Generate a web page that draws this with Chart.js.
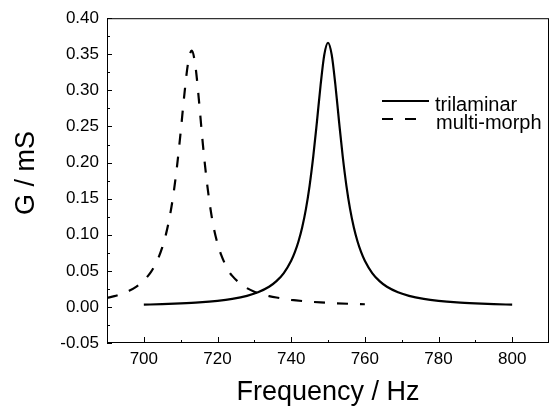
<!DOCTYPE html>
<html>
<head>
<meta charset="utf-8">
<script src="https://cdn.jsdelivr.net/npm/chart.js@4.4.1/dist/chart.umd.min.js"></script>
<style>
  body { margin: 0; background: #fff; }
  canvas { display: block; }
</style>
</head>
<body>
<canvas id="chart" width="551" height="410"></canvas>
<script>
// values
const freqTri = [700, 705, 710, 715, 720, 724, 728, 731, 734, 736, 738,
  740, 741, 742, 743, 744, 745, 746, 747, 748, 749, 750, 751, 752, 753, 754,
  755, 756, 757, 758, 759, 760, 762, 764, 766, 769, 772, 776, 780, 785, 790, 795, 800];
const gTri = [0.0031, 0.0038, 0.0048, 0.0062, 0.0084, 0.0111, 0.0153, 0.0203, 0.0279, 0.0357, 0.0469,
  0.0639, 0.0758, 0.0910, 0.1104, 0.1355, 0.1678, 0.2084, 0.2568, 0.3078, 0.3495, 0.366, 0.3495, 0.3078, 0.2568, 0.2084,
  0.1678, 0.1355, 0.1104, 0.0910, 0.0758, 0.0639, 0.0469, 0.0357, 0.0279, 0.0203, 0.0153, 0.0111, 0.0084, 0.0062, 0.0048, 0.0038, 0.0031];

const freqMulti = [690, 692, 694, 696, 698, 700, 702, 703, 704, 705, 706, 707, 708, 709, 710,
  711, 712, 713, 714, 715, 716, 717, 718, 719, 720, 721, 722, 723, 724,
  726, 728, 730, 732, 734, 736, 740, 744, 748, 752, 756, 760];
const gMulti = [0.0125, 0.0149, 0.0181, 0.0223, 0.0281, 0.0365, 0.0490, 0.0576, 0.0685, 0.0824, 0.1005, 0.1241, 0.1549, 0.1944, 0.2423,
  0.2942, 0.3376, 0.355, 0.334, 0.284, 0.227, 0.178, 0.139, 0.109, 0.088, 0.072, 0.060, 0.050, 0.043,
  0.033, 0.026, 0.021, 0.0175, 0.015, 0.013, 0.0098, 0.0077, 0.0062, 0.0051, 0.0043, 0.0037];

const seriesNames = ["trilaminar", "multi-morph"];

const xTicks = [700, 720, 740, 760, 780, 800];
const xMinorTicks = [710, 730, 750, 770, 790];
const yTicks = [-0.05, 0, 0.05, 0.10, 0.15, 0.20, 0.25, 0.30, 0.35, 0.40];
const yMinorTicks = [-0.025, 0.025, 0.075, 0.125, 0.175, 0.225, 0.275, 0.325, 0.375];

const FONT = "'Liberation Sans', Arial, sans-serif";

function toPoints(xs, ys) {
  return xs.map((v, i) => ({ x: v, y: ys[i] }));
}

// box frame, inward tick marks and the in-plot legend
const framePlugin = {
  id: "frame",
  afterDraw(chart) {
    const { ctx, chartArea: a, scales } = chart;
    const sx = scales.x, sy = scales.y;
    ctx.save();
    ctx.strokeStyle = "#000";
    ctx.lineWidth = 1;
    ctx.setLineDash([]);
    ctx.strokeRect(a.left + 0.5, a.top + 0.5, a.right - a.left - 1, a.bottom - a.top - 1);

    ctx.beginPath();
    xTicks.forEach(v => {
      const p = Math.round(sx.getPixelForValue(v)) + 0.5;
      ctx.moveTo(p, a.bottom); ctx.lineTo(p, a.bottom - 6);
    });
    xMinorTicks.forEach(v => {
      const p = Math.round(sx.getPixelForValue(v)) + 0.5;
      ctx.moveTo(p, a.bottom); ctx.lineTo(p, a.bottom - 3);
    });
    yTicks.forEach(v => {
      const p = Math.round(sy.getPixelForValue(v)) + 0.5;
      ctx.moveTo(a.left, p); ctx.lineTo(a.left + 5, p);
    });
    yMinorTicks.forEach(v => {
      const p = Math.round(sy.getPixelForValue(v)) + 0.5;
      ctx.moveTo(a.left, p); ctx.lineTo(a.left + 3, p);
    });
    ctx.stroke();

    // legend
    ctx.font = "20px " + FONT;
    ctx.fillStyle = "#000";
    ctx.textBaseline = "alphabetic";
    chart.data.datasets.forEach((ds, i) => {
      const ly = 101 + i * 18;
      const dash = ds.borderDash || [];
      ctx.beginPath();
      ctx.lineWidth = ds.borderWidth;
      ctx.setLineDash(dash);
      ctx.moveTo(382, ly);
      ctx.lineTo(dash.length ? 418 : 429, ly);
      ctx.stroke();
      ctx.fillText(ds.label, i === 0 ? 435 : 436, ly + 9.5);
    });
    ctx.restore();
  }
};

new Chart(document.getElementById("chart"), {
  type: "scatter",
  data: {
    datasets: [
      {
        label: seriesNames[0],
        data: toPoints(freqTri, gTri),
        showLine: true,
        borderColor: "#000",
        borderWidth: 2.2,
        pointRadius: 0,
        cubicInterpolationMode: "monotone"
      },
      {
        label: seriesNames[1],
        data: toPoints(freqMulti, gMulti),
        showLine: true,
        borderColor: "#000",
        borderWidth: 2.2,
        borderDash: [11, 12],
        pointRadius: 0,
        cubicInterpolationMode: "monotone"
      }
    ]
  },
  options: {
    responsive: false,
    animation: false,
    devicePixelRatio: 1,
    layout: { padding: { top: 17, right: 2, left: 0, bottom: 0 } },
    plugins: {
      legend: { display: false },
      tooltip: { enabled: false }
    },
    scales: {
      x: {
        type: "linear",
        min: 690,
        max: 810,
        afterFit(scale) { scale.height = 67; },
        afterBuildTicks(scale) { scale.ticks = xTicks.map(v => ({ value: v })); },
        grid: { display: false, drawTicks: false },
        border: { display: false },
        ticks: {
          color: "#000",
          padding: 6,
          maxRotation: 0,
          font: { family: FONT, size: 17 }
        },
        title: {
          display: true,
          text: "Frequency / Hz",
          color: "#000",
          padding: { top: 0, bottom: 1 },
          font: { family: FONT, size: 27 }
        }
      },
      y: {
        type: "linear",
        min: -0.05,
        max: 0.40,
        afterFit(scale) { scale.width = 107; },
        afterBuildTicks(scale) { scale.ticks = yTicks.map(v => ({ value: v })); },
        grid: { display: false, drawTicks: false },
        border: { display: false },
        ticks: {
          color: "#000",
          padding: 8,
          font: { family: FONT, size: 17 },
          callback: v => v.toFixed(2)
        },
        title: {
          display: true,
          text: "  G / mS",
          color: "#000",
          padding: { top: 10, bottom: 0 },
          font: { family: FONT, size: 27 }
        }
      }
    }
  },
  plugins: [framePlugin]
});
</script>
</body>
</html>
